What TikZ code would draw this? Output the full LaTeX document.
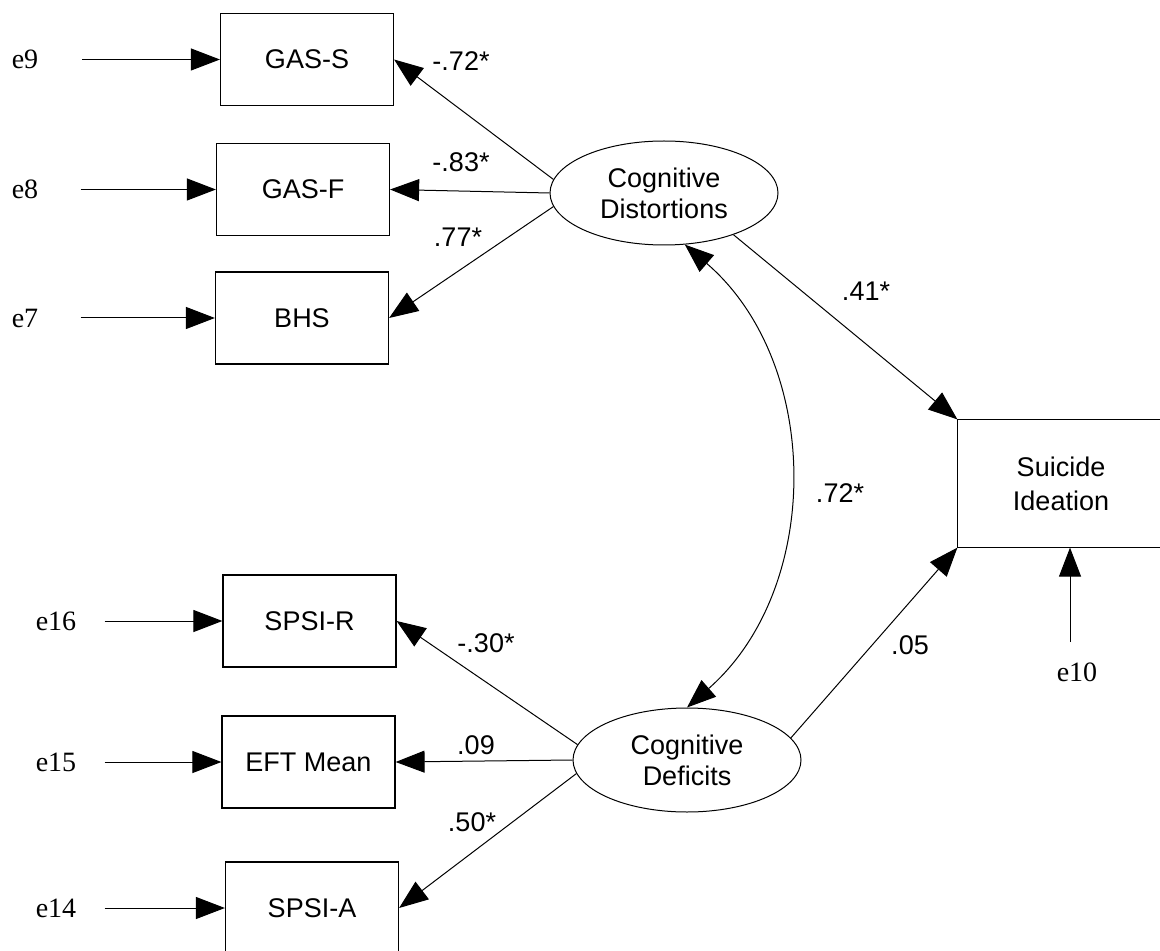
\documentclass[tikz,border=0pt]{standalone}
\usepackage{fontspec}
\setmainfont{Liberation Sans}
\newfontfamily\errfont{Liberation Serif}
\usetikzlibrary{shapes.geometric,arrows.meta}

\begin{document}
\begin{tikzpicture}[x=0.5pt,y=-0.5pt,
  obs/.style={draw,line width=0.6pt,rectangle,minimum width=86.5pt,minimum height=46pt,
    inner sep=0pt,font=\fontsize{13.5}{15.5}\selectfont},
  lat/.style={draw,line width=0.5pt,ellipse,minimum width=114pt,minimum height=52pt,
    inner sep=0pt,align=center,font=\fontsize{13.5}{15.5}\selectfont},
  err/.style={inner sep=0pt,font=\errfont\fontsize{14}{16}\selectfont},
  coef/.style={inner sep=0pt,font=\fontsize{13.5}{16}\selectfont},
  tip/.tip={Triangle[length=14.5pt,width=11pt]},
  load/.style={line width=0.5pt,-tip},
  cov/.style={line width=0.5pt,tip-tip},
]
\useasboundingbox (0,0) rectangle (1160,951);
\clip (0,0) rectangle (1160,951);

% observed indicators
\node[obs] (gass) at (307,59.5) {GAS-S};
\node[obs] (gasf) at (303,189.5) {GAS-F};
\node[obs] (bhs)  at (302,318) {BHS};
\node[obs] (spsir) at (309.5,621) {SPSI-R};
\node[obs] (eft)  at (308.5,762) {EFT Mean};
\node[obs] (spsia) at (312,908) {SPSI-A};
% outcome box runs off the right edge, so only three sides are drawn
\node[obs,draw=none,minimum width=103pt,minimum height=63.5pt,align=center,
  font=\fontsize{13.5}{17}\selectfont] (si) at (1061,483.5) {Suicide\\Ideation};
\draw[line width=0.6pt] ([xshift=10pt]si.north east) -- (si.north west)
  -- (si.south west) -- ([xshift=10pt]si.south east);

% latent factors
\node[lat] (dist) at (664,193) {Cognitive\\Distortions};
\node[lat] (def)  at (687,760) {Cognitive\\Deficits};

% error terms
\node[err] (e9)  at (25,59.5) {e9};
\node[err] (e8)  at (25,189.5) {e8};
\node[err] (e7)  at (25,318) {e7};
\node[err] (e16) at (56,621) {e16};
\node[err] (e15) at (56,762) {e15};
\node[err] (e14) at (56,908) {e14};
\node[err] (e10) at (1077,672) {e10};
\coordinate (e10tail) at (1070,642);

\draw[load,shorten <=21.75pt] (e9.east) -- (gass.west);
\draw[load,shorten <=21pt] (e8.east) -- (gasf.west);
\draw[load,shorten <=21pt] (e7.east) -- (bhs.west);
\draw[load,shorten <=14pt] (e16.east) -- (spsir.west);
\draw[load,shorten <=14pt] (e15.east) -- (eft.west);
\draw[load,shorten <=14pt] (e14.east) -- (spsia.west);
\draw[load] (e10tail) -- (e10tail |- si.south);

% factor loadings
\draw[load] (dist.173.3) -- (gass.east);
\draw[load] (dist.west) -- (gasf.east);
\draw[load] (dist.187) -- (bhs.east);
\draw[load] (def.172.4) -- (spsir.east);
\draw[load] (def.west) -- (eft.east);
\draw[load] (def.187.8) -- (spsia.east);

% structural paths
\draw[load] (dist.-31.7) -- (si.north west);
\draw[load] (def.12.6) -- (si.south west);

% factor covariance
\draw[cov] (dist.-68) to[bend left=49] (def.north);

% coefficients
\node[coef] (c1) at (461,61) {-.72*};
\node[coef] (c2) at (461,162) {-.83*};
\node[coef] (c3) at (458,237) {.77*};
\node[coef] (c4) at (866,291) {.41*};
\node[coef] (c5) at (840,493) {.72*};
\node[coef] (c6) at (910,645) {.05};
\node[coef] (c7) at (486,643) {-.30*};
\node[coef] (c8) at (476,745) {.09};
\node[coef] (c9) at (472,822) {.50*};
\end{tikzpicture}
\end{document}
